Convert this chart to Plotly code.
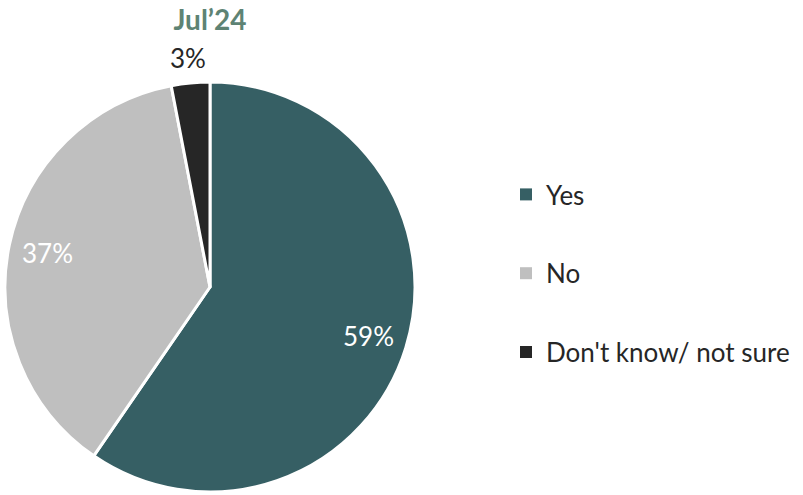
import math
import plotly.graph_objects as go

categories = ["Yes", "No", "Don't know/ not sure"]
values = [59, 37, 3]
colors = ["#365F64", "#BFBFBF", "#262626"]
label_colors = ["#FFFFFF", "#FFFFFF", "#262626"]
label_radius = [0.81, 0.81, 1.12]   # label distance as fraction of pie radius
title_text = "Jul’24"

W, H = 803, 495
dom_x = [5 / W, 415 / W]
dom_y = [1 - 492 / H, 1 - 82 / H]

fig = go.Figure()
fig.add_trace(go.Pie(
    labels=categories, values=values, sort=False, direction="clockwise", rotation=0,
    marker=dict(colors=colors, line=dict(color="#FFFFFF", width=3)),
    textinfo="none", showlegend=False,
    domain=dict(x=dom_x, y=dom_y),
    hoverinfo="label+percent",
))
for c, col in zip(categories, colors):
    fig.add_trace(go.Scatter(
        x=[None], y=[None], mode="markers", name=c, legendgroup=c,
        marker=dict(symbol="square", size=12, color=col),
    ))

# data labels placed along each slice's mid-angle (derived from the values)
cx = (dom_x[0] + dom_x[1]) / 2 * W
cy = (1 - (dom_y[0] + dom_y[1]) / 2) * H
R = min((dom_x[1] - dom_x[0]) * W, (dom_y[1] - dom_y[0]) * H) / 2
total = sum(values)
cum = 0
annotations = []
for v, lc, rf in zip(values, label_colors, label_radius):
    mid = (cum + v / 2) / total * 2 * math.pi
    cum += v
    px = cx + rf * R * math.sin(mid)
    py = cy - rf * R * math.cos(mid)
    annotations.append(dict(
        x=px / W, y=1 - py / H, xref="paper", yref="paper",
        text=f"{v}%", showarrow=False, xanchor="center", yanchor="middle",
        font=dict(family="Lato", size=26, color=lc),
    ))

fig.update_layout(
    width=W, height=H, margin=dict(l=0, r=0, t=0, b=0),
    paper_bgcolor="white", plot_bgcolor="white",
    xaxis=dict(visible=False), yaxis=dict(visible=False),
    title=dict(text="<b>" + title_text + "</b>", x=210 / W, xanchor="center",
               y=1 - 20 / H, yanchor="middle",
               font=dict(family="Lato", size=28, color="#5E8374")),
    legend=dict(x=506 / W, xanchor="left", y=1 - 171 / H, yanchor="top",
                font=dict(family="Lato", size=26, color="#262626"),
                tracegroupgap=42, bgcolor="rgba(0,0,0,0)"),
    annotations=annotations,
)
fig.write_html("out.html", config={"displayModeBar": False},
               post_script="document.body.style.margin='0';")
